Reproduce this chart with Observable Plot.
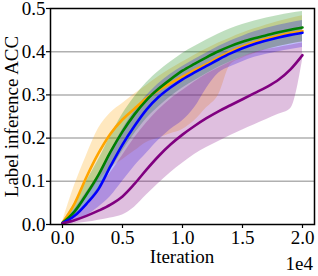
<!DOCTYPE html>
<html>
<head>
<meta charset="utf-8">
<script src="https://cdn.jsdelivr.net/npm/d3@7"></script>
<script src="https://cdn.jsdelivr.net/npm/@observablehq/plot@0.6"></script>
<style>
html, body { margin: 0; padding: 0; background: #fff; }
#chart { width: 318px; height: 276px; }
</style>
</head>
<body>
<div id="chart"></div>
<script>
// Iterations (x values)
const iters = [0,1000,2000,3000,4000,5000,6000,7000,8000,9000,10000,11000,12000,13000,14000,15000,16000,17000,18000,19000,20000];

// Mean curves
const orangeMean = [0.004,0.048,0.11,0.165,0.21,0.243,0.268,0.292,0.311,0.327,0.342,0.357,0.371,0.386,0.4,0.412,0.422,0.43,0.437,0.443,0.448];
const greenMean  = [0.004,0.03,0.07,0.115,0.168,0.215,0.255,0.288,0.314,0.336,0.356,0.372,0.387,0.401,0.413,0.423,0.431,0.438,0.445,0.451,0.456];
const blueMean   = [0.003,0.02,0.048,0.082,0.135,0.185,0.228,0.266,0.295,0.317,0.336,0.352,0.367,0.382,0.396,0.408,0.418,0.426,0.433,0.439,0.444];
const purpleMean = [0.003,0.01,0.02,0.032,0.046,0.065,0.094,0.127,0.158,0.185,0.208,0.228,0.246,0.262,0.276,0.29,0.304,0.318,0.335,0.359,0.392];

// Band edges
const orangeLo = [0,0.02,0.06,0.1,0.13,0.15,0.17,0.19,0.2,0.21,0.22,0.24,0.27,0.3,0.37,0.385,0.395,0.405,0.412,0.418,0.422];
const orangeHi = [0.006,0.09,0.16,0.222,0.258,0.28,0.302,0.322,0.342,0.36,0.376,0.392,0.406,0.42,0.432,0.443,0.453,0.462,0.47,0.477,0.483];
const greenLo  = [0.002,0.015,0.045,0.08,0.125,0.17,0.21,0.245,0.272,0.296,0.316,0.333,0.349,0.364,0.377,0.388,0.397,0.405,0.412,0.418,0.423];
const greenHi  = [0.006,0.05,0.1,0.15,0.205,0.255,0.295,0.328,0.354,0.376,0.396,0.412,0.427,0.441,0.453,0.463,0.471,0.478,0.484,0.489,0.493];
const blueLo   = [0,0.005,0.02,0.04,0.065,0.1,0.135,0.165,0.195,0.22,0.24,0.27,0.315,0.35,0.365,0.377,0.387,0.394,0.4,0.405,0.41];
const blueHi   = [0.005,0.035,0.075,0.115,0.17,0.22,0.262,0.298,0.326,0.348,0.366,0.382,0.397,0.412,0.425,0.436,0.446,0.454,0.461,0.467,0.472];
const purpleLo = [0,0.002,0.005,0.01,0.015,0.022,0.04,0.068,0.095,0.12,0.142,0.162,0.178,0.192,0.206,0.219,0.231,0.243,0.255,0.268,0.38];
const purpleHi = [0.005,0.02,0.05,0.085,0.12,0.16,0.2,0.235,0.265,0.29,0.31,0.33,0.348,0.362,0.376,0.388,0.398,0.405,0.41,0.415,0.42];

const seriesNames = ["orange","green","blue","purple"];
const seriesColors = ["#FFA500","#008000","#0000FF","#800080"];

const xTicks = [0,5000,10000,15000,20000];
const yTicks = [0,0.1,0.2,0.3,0.4,0.5];
const gridTicks = [0.1,0.2,0.3,0.4];
const xLabel = "Iteration";
const yLabel = "Label inference ACC";
const xExponent = "1e4";

const means = [orangeMean, greenMean, blueMean, purpleMean];
const los = [orangeLo, greenLo, blueLo, purpleLo];
const his = [orangeHi, greenHi, blueHi, purpleHi];

const rows = [];
seriesNames.forEach((s, k) => {
  iters.forEach((t, i) => {
    rows.push({series: s, t, mean: means[k][i], lo: los[k][i], hi: his[k][i]});
  });
});

const font = "'Liberation Serif', 'Times New Roman', serif";

const plot = Plot.plot({
  width: 318,
  height: 276,
  marginLeft: 50,
  marginRight: 4,
  marginTop: 8,
  marginBottom: 52,
  style: {fontFamily: font, background: "#fff", overflow: "visible"},
  x: {domain: [-1000, 21000]},
  y: {domain: [0, 0.5]},
  color: {domain: seriesNames, range: seriesColors},
  marks: [
    Plot.gridY(gridTicks, {stroke: "#b0b0b0", strokeOpacity: 1, strokeWidth: 1.5}),
    Plot.areaY(rows, {x: "t", y1: "lo", y2: "hi", fill: "series", fillOpacity: 0.25, z: "series", curve: "monotone-x"}),
    Plot.lineY(rows, {x: "t", y: "mean", stroke: "series", z: "series", strokeWidth: 2.6, curve: "monotone-x"}),
    Plot.frame({stroke: "#000", strokeWidth: 1.5}),
    Plot.axisX(xTicks, {tickSize: 4, tickPadding: 2, fontSize: 19, fontFamily: font, fill: "#000", stroke: "#000", strokeWidth: 1.2, tickFormat: d => (d / 10000).toFixed(1), label: null}),
    Plot.axisY(yTicks, {tickSize: 4, tickPadding: 1, fontSize: 19, fontFamily: font, fill: "#000", stroke: "#000", strokeWidth: 1.2, tickFormat: d => d.toFixed(1), label: null})
  ]
});

document.getElementById("chart").appendChild(plot);

const svg = d3.select(plot);
svg.append("text")
  .attr("x", 182).attr("y", 263)
  .attr("text-anchor", "middle")
  .attr("font-family", font).attr("font-size", 19).attr("fill", "#000")
  .text(xLabel);
svg.append("text")
  .attr("x", 313).attr("y", 270)
  .attr("text-anchor", "end")
  .attr("font-family", font).attr("font-size", 19).attr("fill", "#000")
  .text(xExponent);
svg.append("text")
  .attr("transform", "translate(17.5,116.5) rotate(-90)")
  .attr("text-anchor", "middle")
  .attr("font-family", font).attr("font-size", 19).attr("fill", "#000")
  .text(yLabel);
</script>
</body>
</html>
